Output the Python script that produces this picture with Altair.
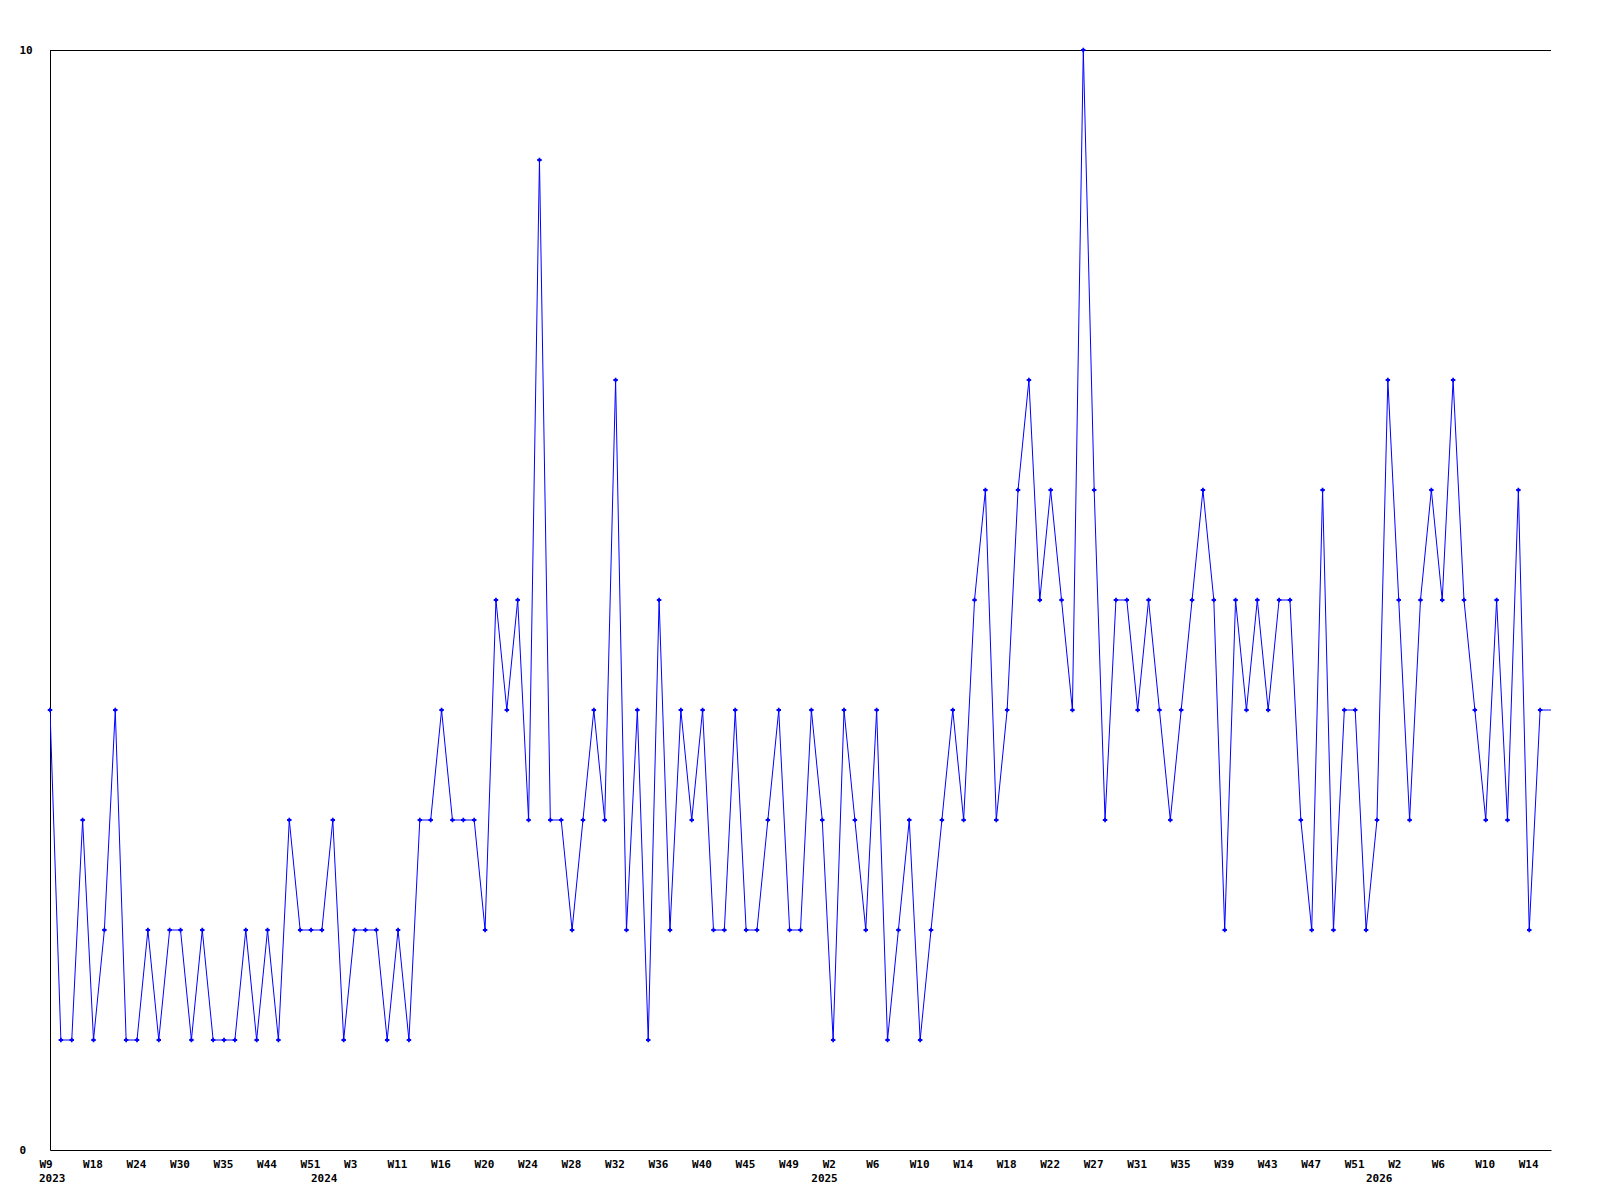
import altair as alt
import pandas as pd

# Values per point (index order)
values = [
    4, 1, 1, 3, 1, 2, 4, 1, 1, 2,
    1, 2, 2, 1, 2, 1, 1, 1, 2, 1,
    2, 1, 3, 2, 2, 2, 3, 1, 2, 2,
    2, 1, 2, 1, 3, 3, 4, 3, 3, 3,
    2, 5, 4, 5, 3, 9, 3, 3, 2, 3,
    4, 3, 7, 2, 4, 1, 5, 2, 4, 3,
    4, 2, 2, 4, 2, 2, 3, 4, 2, 2,
    4, 3, 1, 4, 3, 2, 4, 1, 2, 3,
    1, 2, 3, 4, 3, 5, 6, 3, 4, 6,
    7, 5, 6, 5, 4, 10, 6, 3, 5, 5,
    4, 5, 4, 3, 4, 5, 6, 5, 2, 5,
    4, 5, 4, 5, 5, 3, 2, 6, 2, 4,
    4, 2, 3, 7, 5, 3, 5, 6, 5, 7,
    5, 4, 3, 5, 3, 6, 2, 4,
]
partial_value = 4  # trailing (unmarked) segment to the right edge

tick_labels = ["W9", "W18", "W24", "W30", "W35", "W44", "W51", "W3", "W11", "W16",
               "W20", "W24", "W28", "W32", "W36", "W40", "W45", "W49", "W2", "W6",
               "W10", "W14", "W18", "W22", "W27", "W31", "W35", "W39", "W43", "W47",
               "W51", "W2", "W6", "W10", "W14"]
tick_step = 4
tick_positions = [k * tick_step for k in range(len(tick_labels))]

year_labels = ["2023", "2024", "2025", "2026"]
year_positions = [0, 25, 71, 122]

all_vals = values + [partial_value]
df = pd.DataFrame({
    "i": list(range(len(all_vals))),
    "v": all_vals,
    "marked": [True] * len(values) + [False],
})
years = pd.DataFrame({"i": year_positions, "year": year_labels})

W, H = 1501, 1100
FONT = "DejaVu Sans Mono"
xmax = len(all_vals) - 1

x_scale = alt.Scale(domain=[0, xmax], nice=False, zero=False)
y_scale = alt.Scale(domain=[0, 10], nice=False)

label_arr = "[" + ",".join("'" + s + "'" for s in tick_labels) + "]"

line = alt.Chart(df).mark_line(color="#0000FF", strokeWidth=1, clip=True).encode(
    x=alt.X("i:Q", scale=x_scale,
            axis=alt.Axis(values=tick_positions, title=None, ticks=False, grid=False,
                          domainColor="black", domainWidth=1,
                          labelExpr=f"{label_arr}[round(datum.value/{tick_step})]",
                          labelAlign="left", labelOffset=-11, labelBaseline="top",
                          labelPadding=8, labelFont=FONT, labelFontSize=11,
                          labelFontWeight="bold", labelColor="black",
                          labelOverlap=False, labelFlush=False)),
    y=alt.Y("v:Q", scale=y_scale,
            axis=alt.Axis(values=[0, 10], format="d", title=None, ticks=False, grid=False,
                          domainColor="black", domainWidth=1,
                          labelAlign="left", labelBaseline="middle", labelPadding=31,
                          labelFont=FONT, labelFontSize=11, labelFontWeight="bold",
                          labelColor="black", labelFlush=False)),
)

points = alt.Chart(df).transform_filter("datum.marked").mark_point(
    shape="cross", size=20, filled=True, color="#0000FF", opacity=1
).encode(x=alt.X("i:Q", scale=x_scale), y=alt.Y("v:Q", scale=y_scale))

top_rule = alt.Chart(df).mark_rule(color="black", strokeWidth=1).encode(
    x=alt.value(0), x2=alt.value(W), y=alt.value(0.5)
)

year_text = alt.Chart(years).mark_text(
    align="left", baseline="top", dx=-11, font=FONT, fontSize=11,
    fontWeight="bold", color="black"
).encode(x=alt.X("i:Q", scale=x_scale), y=alt.value(H + 23), text="year:N")

chart = alt.layer(top_rule, line, points, year_text).properties(
    width=W, height=H,
    background="white",
    autosize=alt.AutoSizeParams(type="none"),
    padding={"left": 42, "top": 42, "right": 41, "bottom": 42},
).configure_view(stroke=None)

chart.save("out.html", embed_options={"renderer": "svg", "actions": False})
